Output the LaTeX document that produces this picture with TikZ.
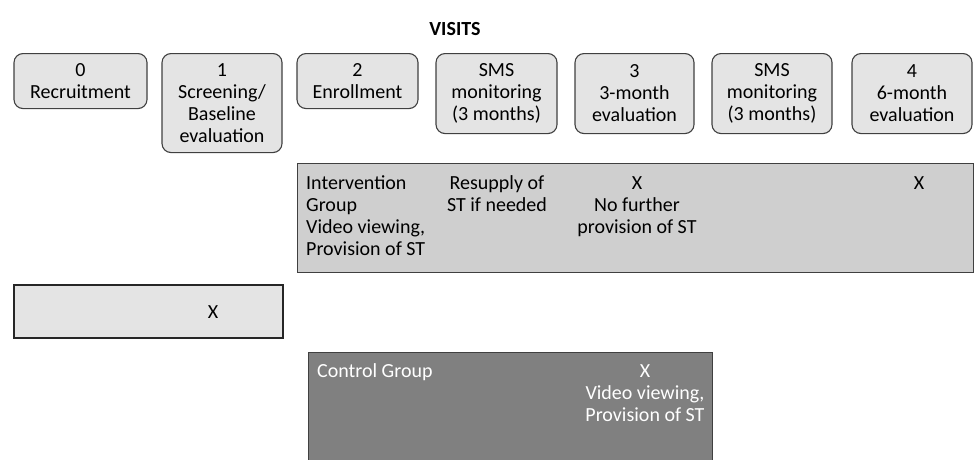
\documentclass[tikz,border=0pt]{standalone}
\usepackage{fontspec}
\setmainfont{Carlito}
\definecolor{visitfill}{HTML}{E4E4E4}
\definecolor{armfill}{HTML}{CFCFCF}
\definecolor{ctrlfill}{HTML}{808080}
\definecolor{edgegray}{HTML}{404040}
\begin{document}
\begin{tikzpicture}[x=1pt, y=-1pt,
    visit/.style={rectangle, rounded corners=9pt, draw=edgegray, fill=visitfill, line width=1.1pt, align=center, inner sep=0pt, anchor=north, font=\fontsize{20}{22}\selectfont},
    band/.style={rectangle, draw=edgegray, line width=1.1pt, inner sep=0pt, anchor=north west},
    txt/.style={inner sep=0pt, font=\fontsize{20}{22}\selectfont}
]
    \useasboundingbox (0,0) rectangle (974,459);
    \clip (0,0) rectangle (974,459);

    % Titel
    \node[txt, font=\fontsize{20}{22}\selectfont\bfseries] (title) at (455,29) {VISITS};

    % Besuche
    \node[visit, minimum width=133pt, minimum height=55pt] (v0) at (80.5,53) {0\\Recruitment};
    \node[visit, minimum width=120pt, minimum height=99pt] (v1) at (222,53) {1\\Screening/\\Baseline\\evaluation};
    \node[visit, minimum width=121pt, minimum height=55pt] (v2) at (357.5,53) {2\\Enrollment};
    \node[visit, minimum width=121pt, minimum height=80pt] (sms1) at (496.5,53) {SMS\\monitoring\\(3 months)};
    \node[visit, minimum width=119pt, minimum height=80pt] (v3) at (634.5,53) {3\\3-month\\evaluation};
    \node[visit, minimum width=120pt, minimum height=80pt] (sms2) at (772,53) {SMS\\monitoring\\(3 months)};
    \node[visit, minimum width=120pt, minimum height=80pt] (v4) at (912,53) {4\\6-month\\evaluation};

    % Interventionsgruppe
    \node[band, fill=armfill, minimum width=676pt, minimum height=109pt] (intv) at (297,163) {};
    \node[txt, anchor=base west, align=left] (intlabel) at (306,255) {Intervention\\Group\\Video viewing,\\Provision of ST};
    \node[txt, anchor=base, align=center] (resupply) at (497,211) {Resupply of\\ST if needed};
    \node[txt, anchor=base, align=center] (intx3) at (637,233) {X\\No further\\provision of ST};
    \node[txt, anchor=base] (intx4) at (919,189) {X};

    % Screening
    \node[band, fill=visitfill, line width=1.6pt, draw=black!85, minimum width=269pt, minimum height=53pt] (screen) at (13,284) {};
    \node[txt, anchor=base] (screenx) at (213,318) {X};

    % Kontrollgruppe
    \node[band, fill=ctrlfill, minimum width=404pt, minimum height=130pt] (ctrl) at (308,352) {};
    \node[txt, anchor=base west, text=white] (ctrllabel) at (317,377) {Control Group};
    \node[txt, anchor=base, align=center, text=white] (ctrlx) at (645,421) {X\\Video viewing,\\Provision of ST};
\end{tikzpicture}
\end{document}
